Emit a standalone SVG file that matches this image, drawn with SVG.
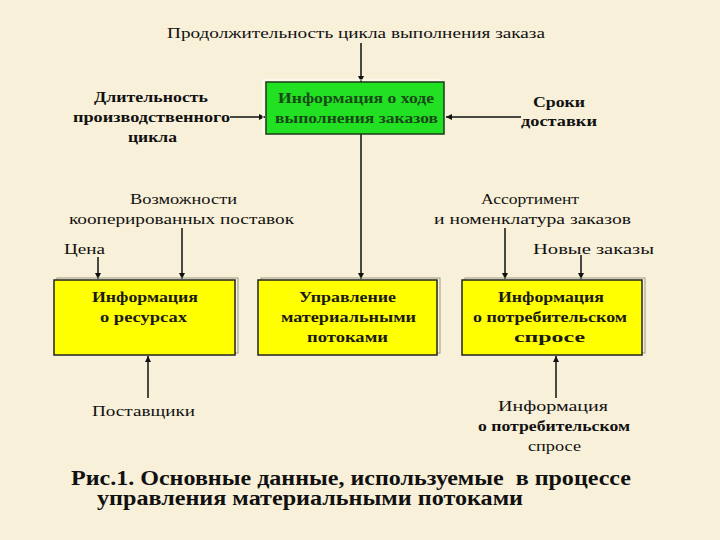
<svg xmlns="http://www.w3.org/2000/svg" width="720" height="540" viewBox="0 0 720 540" font-family="'Liberation Serif', 'DejaVu Serif', 'Times New Roman', serif">
<defs>
<style>
.t{font-size:15px;fill:#111;text-anchor:middle}
.b{font-weight:bold}
.bx{font-size:15px;font-weight:bold;fill:#1a1a1a;text-anchor:middle}
.gt{fill:#174a17}
.cap{font-size:20px;font-weight:bold;fill:#111;white-space:pre}
.ln{stroke:#111;stroke-width:1.5;fill:none;marker-end:url(#ah)}
.yb{fill:#FFFF00;stroke:#222;stroke-width:1.5}
.fr{fill:none;stroke:#9a9a80;stroke-width:1}
</style>
<marker id="ah" viewBox="0 0 10 10" refX="10" refY="5" markerWidth="6" markerHeight="6" markerUnits="userSpaceOnUse" orient="auto">
<path d="M0,0 L10,5 L0,10 z" fill="#111"/>
</marker>
</defs>
<rect width="720" height="540" fill="#F8F0D9"/>

<g id="connectors">
<line class="ln" x1="361" y1="43" x2="361" y2="82"/>
<line class="ln" x1="230" y1="117" x2="265" y2="117"/>
<line class="ln" x1="521" y1="117" x2="446" y2="117"/>
<line class="ln" x1="361" y1="134" x2="361" y2="279"/>
<line class="ln" x1="98" y1="257" x2="98" y2="279"/>
<line class="ln" x1="182" y1="228" x2="182" y2="279"/>
<line class="ln" x1="505" y1="228" x2="505" y2="279"/>
<line class="ln" x1="581" y1="255" x2="581" y2="279"/>
<line class="ln" x1="148" y1="398" x2="148" y2="356"/>
<line class="ln" x1="556" y1="398" x2="556" y2="356"/>
</g>

<g id="title-top">
<text class="t" x="356" y="38" textLength="378" lengthAdjust="spacingAndGlyphs">Продолжительность цикла выполнения заказа</text>
</g>

<g id="label-dlitelnost">
<text class="t b" x="151" y="102" textLength="114" lengthAdjust="spacingAndGlyphs">Длительность</text>
<text class="t b" x="151.5" y="122" textLength="157" lengthAdjust="spacingAndGlyphs">производственного</text>
<text class="t b" x="152.5" y="142" textLength="49" lengthAdjust="spacingAndGlyphs">цикла</text>
</g>

<g id="label-sroki">
<text class="t b" x="559" y="107" textLength="52" lengthAdjust="spacingAndGlyphs">Сроки</text>
<text class="t b" x="559" y="126" textLength="76" lengthAdjust="spacingAndGlyphs">доставки</text>
</g>

<g id="node-info-orders">
<rect x="263" y="80" width="178" height="52" fill="none" stroke="#ffffff" stroke-width="1"/>
<rect x="266" y="82" width="178" height="52" fill="#22E022" stroke="#1a3a1a" stroke-width="1.5"/>
<text class="bx gt" x="356" y="103" textLength="156" lengthAdjust="spacingAndGlyphs">Информация о ходе</text>
<text class="bx gt" x="356.5" y="123" textLength="163" lengthAdjust="spacingAndGlyphs">выполнения заказов</text>
</g>

<g id="label-vozmozhnosti">
<text class="t" x="183.5" y="204" textLength="107" lengthAdjust="spacingAndGlyphs">Возможности</text>
<text class="t" x="181.5" y="224" textLength="225" lengthAdjust="spacingAndGlyphs">кооперированных поставок</text>
</g>

<g id="label-assortiment">
<text class="t" x="530" y="204" textLength="98" lengthAdjust="spacingAndGlyphs">Ассортимент</text>
<text class="t" x="532.5" y="224" textLength="197" lengthAdjust="spacingAndGlyphs">и номенклатура заказов</text>
</g>

<g id="label-cena">
<text class="t" x="84.5" y="254" textLength="41" lengthAdjust="spacingAndGlyphs">Цена</text>
</g>

<g id="label-novye">
<text class="t" x="593.5" y="254" textLength="121" lengthAdjust="spacingAndGlyphs">Новые заказы</text>
</g>

<g id="node-resources">
<rect class="fr" x="57" y="278" width="181" height="75"/>
<rect class="yb" x="54" y="280" width="181" height="75"/>
<text class="bx" x="145" y="302" textLength="106" lengthAdjust="spacingAndGlyphs">Информация</text>
<text class="bx" x="143.5" y="322" textLength="87" lengthAdjust="spacingAndGlyphs">о ресурсах</text>
</g>

<g id="node-management">
<rect class="fr" x="261" y="278" width="179" height="75"/>
<rect class="yb" x="258" y="280" width="179" height="75"/>
<text class="bx" x="347.5" y="302" textLength="97" lengthAdjust="spacingAndGlyphs">Управление</text>
<text class="bx" x="348.5" y="322" textLength="135" lengthAdjust="spacingAndGlyphs">материальными</text>
<text class="bx" x="347.5" y="342" textLength="81" lengthAdjust="spacingAndGlyphs">потоками</text>
</g>

<g id="node-demand">
<rect class="fr" x="465" y="278" width="180" height="75"/>
<rect class="yb" x="462" y="280" width="180" height="75"/>
<text class="bx" x="551" y="302" textLength="106" lengthAdjust="spacingAndGlyphs">Информация</text>
<text class="bx" x="550" y="322" textLength="154" lengthAdjust="spacingAndGlyphs">о потребительском</text>
<text class="bx" x="549.5" y="342" textLength="71" lengthAdjust="spacingAndGlyphs">спросе</text>
</g>

<g id="label-postavshchiki">
<text class="t" x="143.5" y="416" textLength="103" lengthAdjust="spacingAndGlyphs">Поставщики</text>
</g>

<g id="label-info-demand">
<text class="t" x="553" y="411" textLength="110" lengthAdjust="spacingAndGlyphs">Информация</text>
<text class="t b" x="554" y="431" textLength="152" lengthAdjust="spacingAndGlyphs">о потребительском</text>
<text class="t" x="554.5" y="451" textLength="53" lengthAdjust="spacingAndGlyphs">спросе</text>
</g>

<g id="caption">
<text class="cap" x="71" y="485" textLength="560" lengthAdjust="spacingAndGlyphs" xml:space="preserve">Рис.1. Основные данные, используемые  в процессе</text>
<text class="cap" x="97" y="505" textLength="426" lengthAdjust="spacingAndGlyphs">управления материальными потоками</text>
</g>
</svg>
